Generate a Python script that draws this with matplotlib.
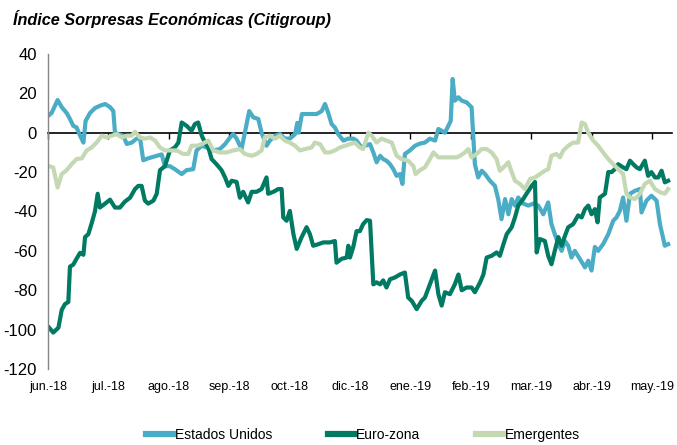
import matplotlib
matplotlib.use("Agg")
import matplotlib.pyplot as plt
from matplotlib import font_manager

# pick a narrow font if available (reference uses a condensed Calibri look)
names = {f.name for f in font_manager.fontManager.ttflist}
FONT = "Liberation Sans Narrow" if "Liberation Sans Narrow" in names else "Liberation Sans"
plt.rcParams["font.family"] = [FONT, "DejaVu Sans"]
plt.rcParams["axes.unicode_minus"] = False

# x = trading-day index, one label every 22 days
tick_labels = ["jun.-18", "jul.-18", "ago.-18", "sep.-18", "oct.-18", "dic.-18",
               "ene.-19", "feb.-19", "mar.-19", "abr.-19", "may.-19"]
tick_days = [0, 22, 44, 66, 88, 110, 132, 154, 176, 198, 220]

# Estados Unidos
us_day = [0.1, 1.3, 3.5, 5.0, 6.8, 8.0, 9.2, 10.4, 11.7, 12.9, 13.7, 15.3, 17.1, 18.9,
          20.8, 22.6, 23.8, 24.4, 25.6, 27.4, 28.7, 30.5, 32.3, 33.5, 34.7, 36.5, 39.0,
          41.4, 42.6, 44.4, 46.2, 48.7, 50.5, 52.9, 54.1, 56.0, 57.8, 60.2, 62.6, 64.5,
          66.3, 67.5, 68.7, 70.5, 71.7, 73.3, 74.8, 76.6, 77.8, 79.6, 80.8, 82.7, 84.5,
          86.3, 88.1, 90.0, 90.8, 91.3, 92.5, 95.4, 97.9, 99.7, 100.9, 102.1, 103.3,
          104.5, 105.7, 107.6, 109.4, 111.2, 112.4, 114.2, 115.5, 117.3, 118.5, 119.7,
          121.0, 122.1, 123.3, 124.6, 125.8, 127.0, 128.2, 129.1, 130.0, 131.8, 133.7,
          135.5, 137.3, 139.1, 141.0, 142.2, 143.4, 144.6, 145.8, 146.7, 147.4, 148.2,
          149.5, 150.7, 152.5, 154.3, 155.5, 156.7, 158.0, 159.2, 161.0, 162.8, 164.0,
          165.2, 166.5, 167.7, 168.9, 170.1, 171.3, 173.1, 175.0, 176.8, 178.6, 180.4,
          182.2, 183.4, 184.6, 185.9, 187.1, 188.3, 189.5, 190.7, 191.9, 193.7, 195.6,
          196.8, 198.0, 199.2, 200.4, 202.2, 204.1, 205.9, 207.1, 208.3, 209.5, 210.7,
          212.0, 213.8, 215.6, 216.2, 218.0, 219.8, 221.7, 222.9, 224.7, 225.9]
us_val = [8.6, 10, 16.6, 13, 10, 7, 3.5, 2.7, -1.5, -5, 6, 10, 12.5, 13.7,
          14.6, 13, 11, 0, -0.7, -1.5, -5.7, -5, -3, -2.4, -14, -13, -12,
          -11, -17, -17, -18.5, -21, -19, -18.5, -9, -6.6, -7.5, -9, -8.3, -5.8,
          -2.4, -0.7, -3, -8.3, 0, 11, 7.8, 7, 0, -6.6, -4, -1.5, -0.7,
          -3, -3, -0.7, 5, 0, 9.5, 9.5, 9.5, 11, 14.6, 10, 4.4,
          2.7, -0.7, -4, -3, -3, -4, -7.5, -6.6, -5.8, -10, -15,
          -11.7, -13.4, -14.2, -16, -18.5, -21.9, -21, -26, -10.8, -9, -6.6,
          -5.5, -5, -3, -4, 1.9, 1, 0, 3.5, 6, 27.3, 16.3,
          18, 16.3, 15.4, 12.9, -16, -22.7, -19.3, -21, -24.4, -27, -33.7,
          -43.9, -33.7, -41.4, -33.7, -37, -32.9, -36, -37, -36, -37, -41.4,
          -35.4, -46.4, -51.5, -56.6, -60, -55, -57.4, -63.4, -60, -64, -68.4,
          -65, -70, -58, -60, -56.6, -51.5, -44.7, -43, -39.7, -32.9, -44.7,
          -31, -29.5, -28.6, -40.5, -34.5, -32, -34.5, -46.4, -57.4, -56.6]

# Euro-zona
ez_day = [0.4, 1.9, 3.8, 5.0, 6.2, 7.4, 8.0, 9.2, 10.4, 11.7, 12.9, 13.5, 14.7, 15.9,
          17.1, 18.1, 18.9, 20.8, 22.6, 24.4, 26.2, 28.0, 29.9, 31.7, 32.9, 34.1, 35.3,
          36.5, 38.4, 39.6, 40.8, 42.6, 44.4, 46.2, 47.5, 48.7, 50.5, 52.3, 53.5, 54.7,
          56.0, 57.2, 58.4, 59.6, 61.4, 63.2, 64.5, 65.7, 66.9, 68.7, 69.9, 71.1, 72.9,
          74.2, 76.0, 77.8, 79.6, 80.2, 82.1, 83.9, 85.1, 85.7, 86.9, 88.1, 89.4, 90.6,
          92.4, 94.2, 95.4, 96.6, 98.5, 100.3, 102.7, 104.5, 105.1, 107.0, 108.8, 109.4,
          110.0, 111.2, 112.4, 113.6, 114.8, 116.1, 117.3, 118.5, 119.7, 121.0, 122.1,
          123.3, 124.6, 126.4, 128.2, 130.0, 131.2, 132.5, 134.3, 136.1, 137.3, 139.1,
          141.0, 142.2, 143.4, 144.6, 146.4, 148.2, 149.5, 150.7, 152.5, 154.3, 155.5,
          157.4, 158.6, 159.8, 161.6, 163.4, 164.6, 165.9, 167.1, 168.9, 170.1, 171.3,
          173.1, 174.3, 176.2, 177.4, 178.0, 179.2, 181.0, 182.2, 183.4, 184.6, 185.9,
          187.1, 188.3, 189.5, 191.3, 193.1, 194.4, 195.6, 196.8, 198.0, 199.2, 200.2,
          201.0, 202.9, 204.1, 205.3, 206.5, 207.7, 209.5, 210.7, 212.0, 213.2, 214.4,
          215.6, 217.4, 218.6, 219.8, 221.1, 222.3, 223.5, 224.7, 225.9]
ez_val = [-99, -101.5, -99, -90, -87, -86, -68, -67, -64, -61, -62, -53, -51.5, -46,
          -40, -31, -38, -36, -34, -38, -38, -35, -33, -28.6, -27, -27, -34.5,
          -36, -34.5, -31, -19, -17, -9, -7.5, -5, 5.2, 3.5, 1, 4.4, 5.2,
          -1.5, -5, -7.5, -13.4, -16, -19, -22.7, -27, -24.4, -25, -33, -30, -35.4,
          -30, -30, -28.6, -22.7, -31, -30, -28.6, -28.6, -43, -44.7, -39.7, -51.5, -59,
          -53, -48, -51.5, -57.4, -56.6, -55.7, -55.7, -55, -66, -64, -63.4, -57.4,
          -63.4, -58, -50, -50, -46.4, -44.4, -44.7, -77, -76, -77, -75,
          -78.6, -74.4, -73.5, -72, -71, -83.7, -85.4, -89.6, -85.4, -83.7, -77,
          -70, -82, -87.8, -81, -82, -77, -72, -80, -78.6, -78.6, -81,
          -76, -72, -63.4, -62.5, -60.8, -62.5, -56.6, -51.5, -48, -43, -37,
          -33.7, -31, -27, -25, -60.8, -54, -55, -62.5, -66.8, -60, -53,
          -57.4, -52.4, -48, -46.4, -42, -43, -38.8, -37, -41.4, -38.8, -45.5,
          -32.9, -31, -20, -20, -18.5, -16, -17.6, -18.5, -14.2, -16, -17.6,
          -18.5, -14.2, -21.9, -20, -22.7, -22.7, -19.3, -25.2, -24.4]

# Emergentes
em_day = [0.4, 1.9, 3.5, 5.0, 6.8, 8.6, 10.4, 12.3, 14.1, 15.9, 17.7, 19.6, 21.4, 23.2,
          25.0, 26.8, 28.7, 30.5, 31.7, 33.5, 35.3, 37.2, 39.0, 40.8, 42.6, 44.4, 46.9,
          49.3, 51.1, 52.3, 54.1, 56.0, 58.4, 60.2, 62.6, 65.1, 67.5, 69.9, 71.7, 74.2,
          76.0, 77.8, 79.0, 80.8, 82.7, 84.5, 86.3, 88.1, 90.0, 91.8, 93.6, 96.0, 97.2,
          99.1, 100.9, 102.7, 104.5, 106.3, 108.2, 110.0, 111.8, 113.6, 114.8, 116.7,
          117.9, 119.7, 121.5, 123.3, 125.2, 127.0, 128.8, 131.2, 133.1, 133.9, 135.5,
          137.3, 139.1, 140.4, 142.2, 144.0, 146.4, 148.9, 150.1, 151.9, 153.1, 154.3,
          156.1, 158.0, 159.8, 161.6, 163.4, 164.6, 166.5, 167.7, 168.9, 170.1, 171.9,
          173.7, 175.6, 177.4, 179.2, 181.0, 182.2, 183.4, 185.2, 186.5, 187.7, 189.5,
          191.3, 193.1, 194.4, 195.6, 196.8, 198.6, 200.4, 202.2, 204.1, 205.9, 207.7,
          209.5, 210.7, 212.0, 213.8, 215.6, 217.4, 219.2, 221.1, 222.9, 224.7, 225.9]
em_val = [-17, -17.6, -27.8, -21, -19, -16, -13.4, -13, -9, -7.5, -5, -1.5, -2.4, -1.5,
          -0.7, -2.4, -1.5, -1.5, 0.5, -2.4, -3, -2.4, -4, -7.5, -9, -9, -9,
          -10.8, -10.8, -6.6, -6.6, -5.8, -4, -9, -10, -10, -9, -8.3, -10.8, -11.7,
          -10.8, -9, -2.4, -1.5, -3, -1.5, -4, -5, -6.6, -9, -8.3, -7.5, -5,
          -5.8, -10, -10, -9, -7.5, -6.6, -5.8, -5, -7.5, -8.3, 0,
          -1.5, -5, -3, -4, -5, -11.7, -13.4, -14.2, -17, -21, -19,
          -17.6, -13.4, -10, -12.5, -12.5, -12.5, -12.5, -11.7, -10, -8.3, -12.5,
          -10.8, -8.3, -8.3, -10, -13.4, -19.3, -16.8, -15, -20, -24.4, -26,
          -28.6, -23.5, -22.7, -21, -19.3, -18.5, -11.7, -10.8, -12.5, -9, -6.6,
          -5, -5, 5.2, 4.4, 0, -4, -6.6, -10, -13.4, -16, -18.5,
          -21, -31, -32.9, -33.7, -31, -26, -24.4, -28.6, -30.2, -31, -28.6]

C_US = "#4BACC6"
C_EZ = "#007A62"
C_EM = "#C4D9B3"

fig = plt.figure(figsize=(6.77, 4.45), dpi=100)
ax = fig.add_axes([0.0709, 0.1708, 0.9217, 0.7079])

ax.plot(us_day, us_val, color=C_US, lw=3, label="Estados Unidos", solid_joinstyle="round")
ax.plot(ez_day, ez_val, color=C_EZ, lw=3, label="Euro-zona", solid_joinstyle="round")
ax.plot(em_day, em_val, color=C_EM, lw=3, label="Emergentes", solid_joinstyle="round")

ax.set_xlim(0, 227.3)
ax.set_ylim(-120, 40)
ax.set_yticks(range(-120, 41, 20))
ax.set_xticks(tick_days, tick_labels)
ax.tick_params(axis="x", length=0, pad=9, labelsize=9)
ax.tick_params(axis="y", length=0, pad=8, labelsize=12)

for s in ["top", "right", "bottom"]:
    ax.spines[s].set_visible(False)
ax.spines["left"].set_color("#868686")
ax.spines["left"].set_linewidth(1)

# zero line with small tick marks (y = 0 sits at 3/4 of the axes height)
zero = ax.secondary_xaxis(120 / 160)
zero.set_alignment("bottom")
zero.set_xticks(tick_days)
zero.tick_params(axis="x", direction="out", length=4, width=1, color="black",
                 labelbottom=False, labeltop=False)
zero.spines["bottom"].set_color("black")
zero.spines["bottom"].set_linewidth(1.2)

fig.text(0.019, 0.958, "Índice Sorpresas Económicas (Citigroup)", fontsize=11.7,
         fontweight="bold", fontstyle="italic", ha="left", va="center")

fig.legend(loc="center", bbox_to_anchor=(0.536, 0.023), ncol=3, frameon=False,
           fontsize=10, handlelength=1.95, handletextpad=0.1, columnspacing=4.0,
           borderaxespad=0)
for h in fig.legends[0].get_lines():
    h.set_linewidth(4.5)

fig.savefig("out.png", dpi=100)
